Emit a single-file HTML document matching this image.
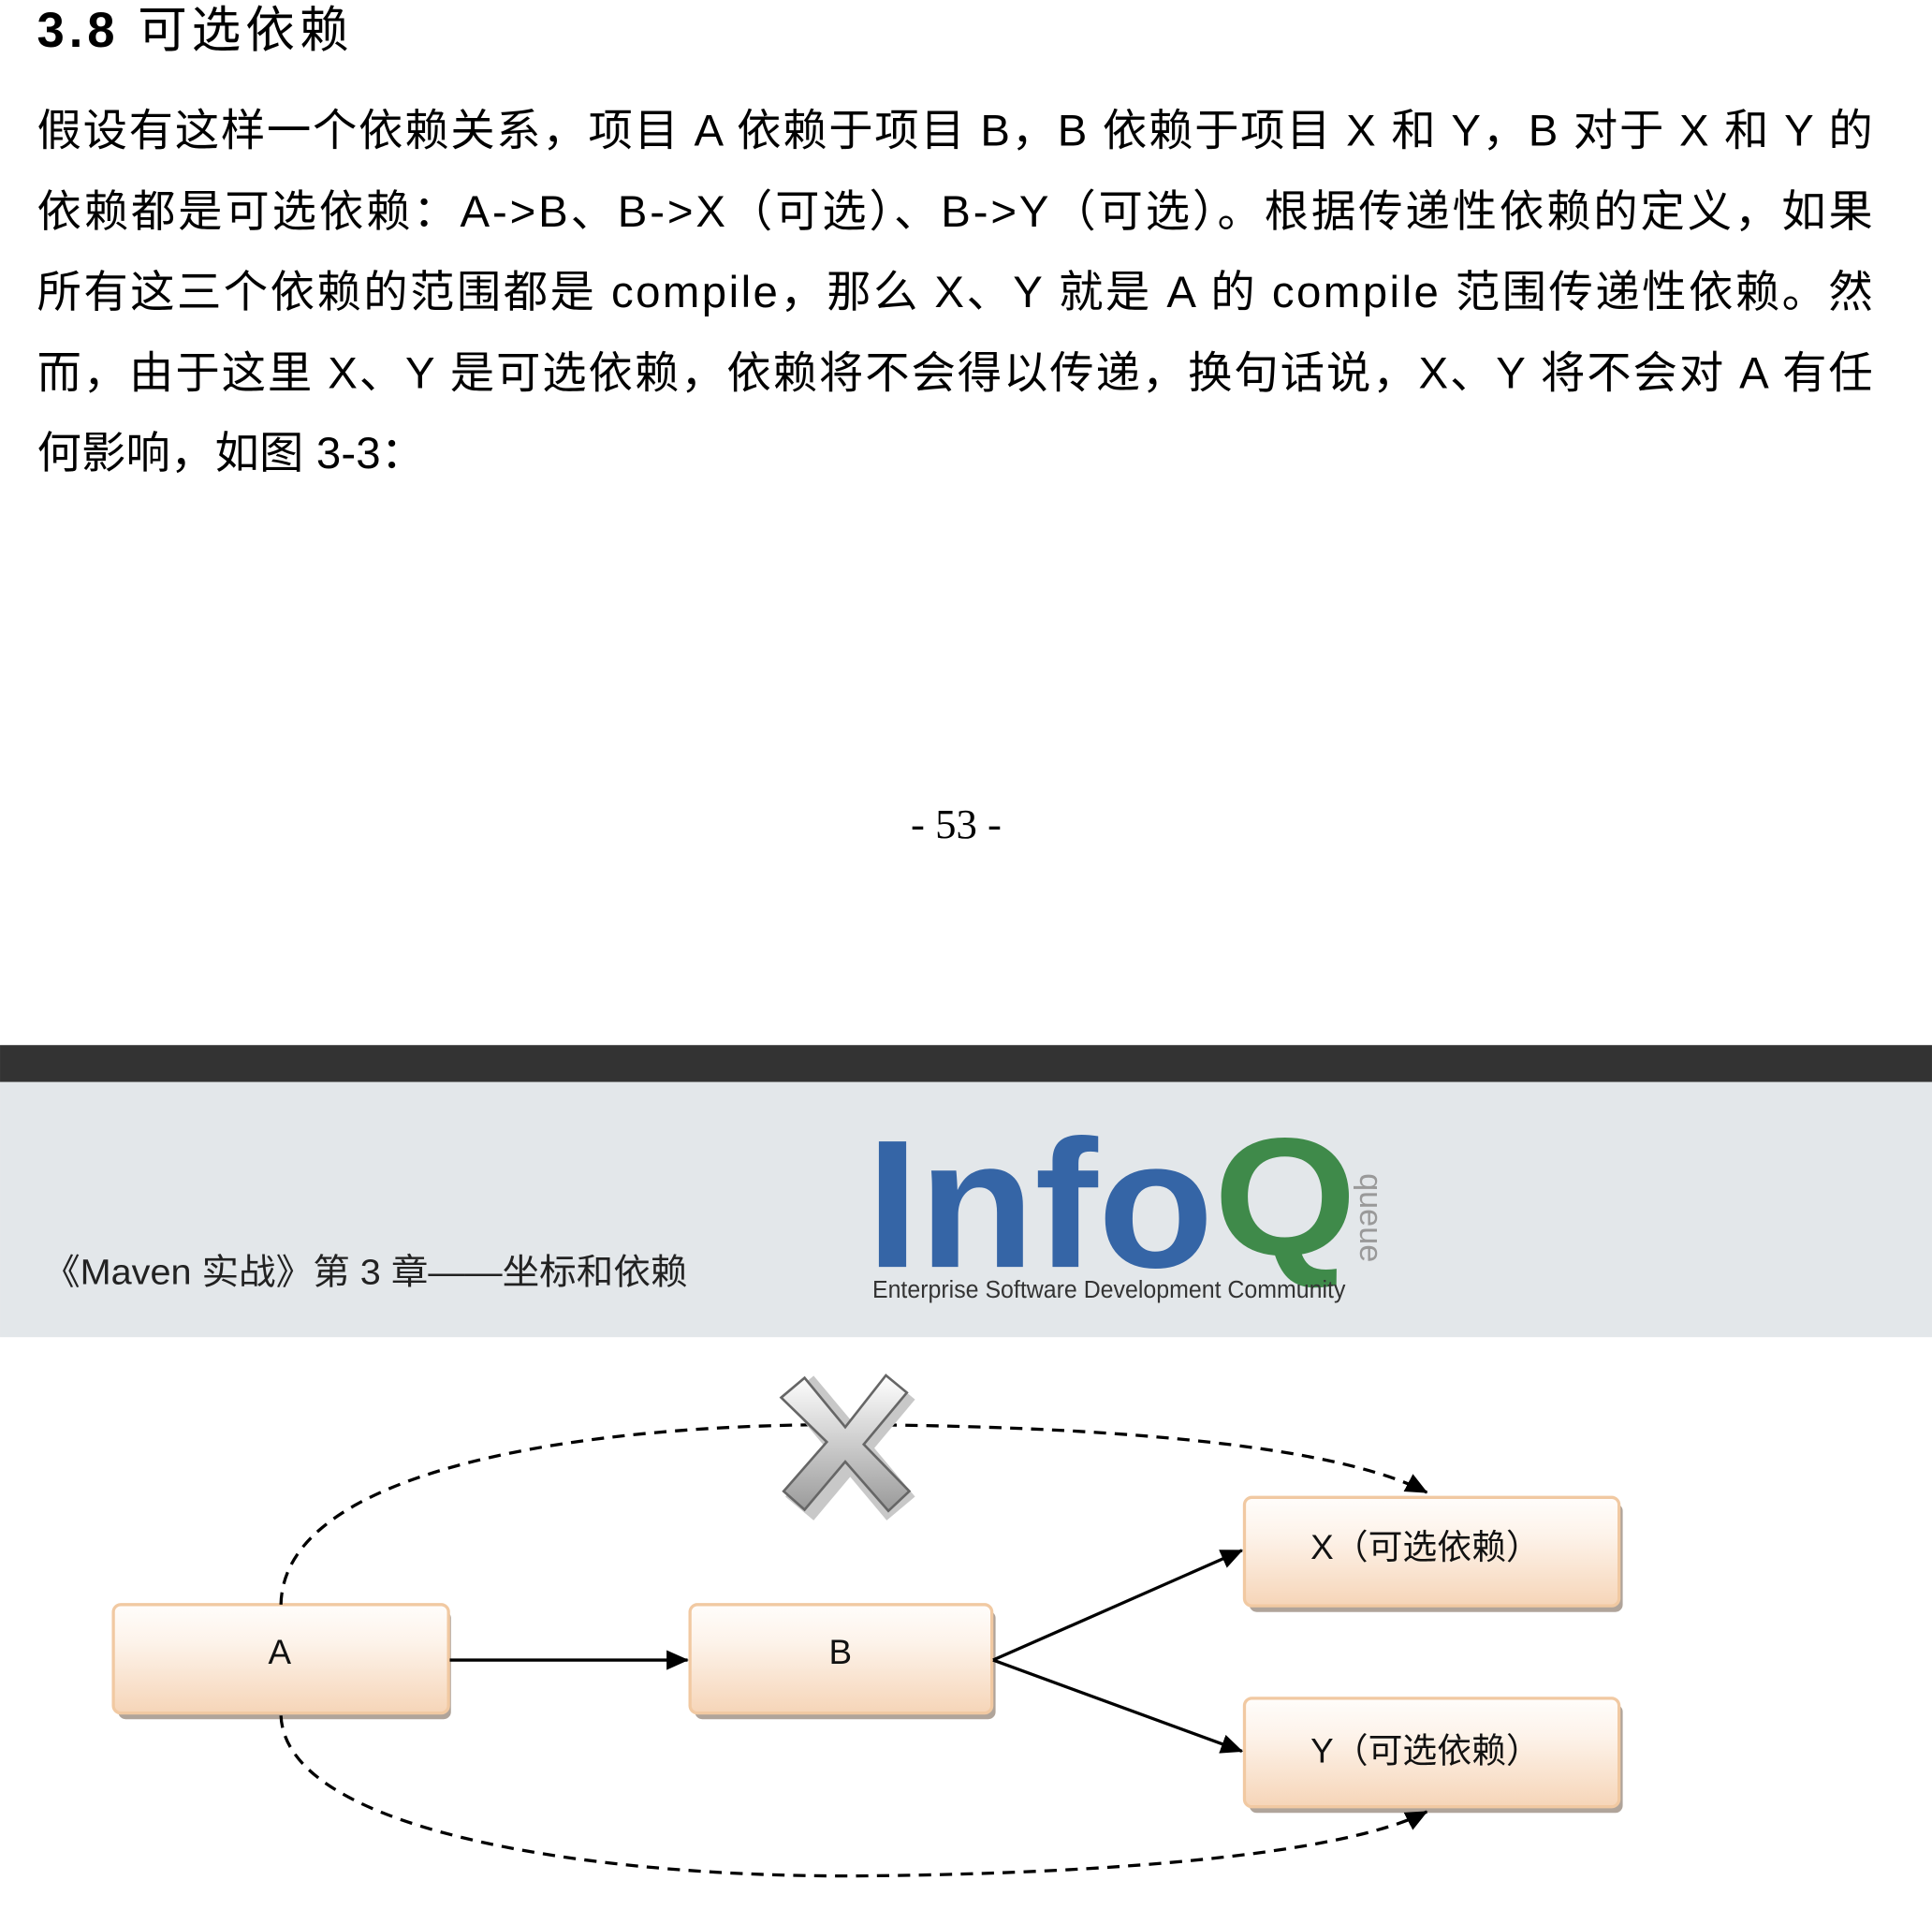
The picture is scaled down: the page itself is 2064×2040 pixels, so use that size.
<!DOCTYPE html>
<html><head><meta charset="utf-8"><style>
html,body{margin:0;padding:0;background:#fff;}
svg{display:block;}
</style></head><body>
<svg width="2064" height="2040" viewBox="0 0 1568 1549.8" xmlns="http://www.w3.org/2000/svg">
<defs>
<linearGradient id="bx" x1="0" y1="0" x2="0" y2="1"><stop offset="0" stop-color="#fffdfb"/><stop offset="0.35" stop-color="#fdf3ea"/><stop offset="1" stop-color="#f6d5b8"/></linearGradient>
<linearGradient id="xg" x1="0" y1="0" x2="0" y2="1"><stop offset="0" stop-color="#ffffff"/><stop offset="1" stop-color="#9a9a9a"/></linearGradient>
<marker id="ar2" markerWidth="18" markerHeight="18" refX="17" refY="9" orient="auto" markerUnits="userSpaceOnUse" viewBox="0 0 18 18"><path d="M0,1 L18,9 L0,17 z" fill="#000"/></marker>
</defs>
<g font-family="'Liberation Sans','Noto Sans CJK SC',sans-serif" fill="#000">
<text x="30" y="38" font-size="40" textLength="253" lengthAdjust="spacing"><tspan font-weight="bold">3.8</tspan> 可选依赖</text>
<g font-size="36">
<text x="30" y="118" textLength="1490" lengthAdjust="spacing">假设有这样一个依赖关系，项目 A 依赖于项目 B，B 依赖于项目 X 和 Y，B 对于 X 和 Y 的</text>
<text x="30" y="184" textLength="1490" lengthAdjust="spacing">依赖都是可选依赖：A-&gt;B、B-&gt;X（可选）、B-&gt;Y（可选）。根据传递性依赖的定义，如果</text>
<text x="30" y="249" textLength="1490" lengthAdjust="spacing">所有这三个依赖的范围都是 compile，那么 X、Y 就是 A 的 compile 范围传递性依赖。然</text>
<text x="30" y="315" textLength="1490" lengthAdjust="spacing">而，由于这里 X、Y 是可选依赖，依赖将不会得以传递，换句话说，X、Y 将不会对 A 有任</text>
<text x="30" y="380" textLength="315" lengthAdjust="spacing">何影响，如图 3-3：</text>
</g>
<text x="776" y="680" font-size="34" text-anchor="middle" font-family="'Liberation Serif',serif">- 53 -</text>
</g>
<rect x="0" y="848" width="1568" height="30" fill="#333"/>
<rect x="0" y="878" width="1568" height="207" fill="#e3e7ea"/>
<text x="35" y="1042" font-size="29" font-family="'Liberation Sans','Noto Sans CJK SC',sans-serif" fill="#222" textLength="523" lengthAdjust="spacingAndGlyphs">《Maven 实战》第 3 章——坐标和依赖</text>
<text x="703" y="1028" font-size="148" font-weight="bold" font-family="'Liberation Sans',sans-serif" fill="#3565a6" textLength="282" lengthAdjust="spacingAndGlyphs">Info</text>
<text x="985" y="1018" font-size="136" font-weight="bold" font-family="'Liberation Sans',sans-serif" fill="#3f8a4a" textLength="116" lengthAdjust="spacingAndGlyphs">Q</text>
<text transform="translate(1104,952) rotate(90)" font-size="26" font-family="'Liberation Sans',sans-serif" fill="#999">queue</text>
<text x="708" y="1053" font-size="20" font-family="'Liberation Sans',sans-serif" fill="#333" textLength="384" lengthAdjust="spacingAndGlyphs">Enterprise Software Development Community</text>

<g>
<rect x="96" y="1307" width="270" height="88" rx="6" fill="#b0a49a"/>
<rect x="92" y="1302" width="272" height="88" rx="6" fill="url(#bx)" stroke="#f1c9a2" stroke-width="2.5"/>
<rect x="564" y="1307" width="244" height="88" rx="6" fill="#b0a49a"/>
<rect x="560" y="1302" width="245" height="88" rx="6" fill="url(#bx)" stroke="#f1c9a2" stroke-width="2.5"/>
<rect x="1014" y="1220" width="303" height="88" rx="6" fill="#b0a49a"/>
<rect x="1010" y="1215" width="304" height="88" rx="6" fill="url(#bx)" stroke="#f1c9a2" stroke-width="2.5"/>
<rect x="1014" y="1383" width="303" height="88" rx="6" fill="#b0a49a"/>
<rect x="1010" y="1378" width="304" height="88" rx="6" fill="url(#bx)" stroke="#f1c9a2" stroke-width="2.5"/>
</g>
<g font-family="'Liberation Sans','Noto Sans CJK SC',sans-serif" font-size="28" text-anchor="middle" fill="#111">
<text x="227" y="1350">A</text>
<text x="682" y="1350">B</text>
<text x="1157" y="1265">X（可选依赖）</text>
<text x="1157" y="1430">Y（可选依赖）</text>
</g>
<g stroke="#000" stroke-width="2.5" fill="none">
<line x1="365" y1="1347" x2="558" y2="1347" marker-end="url(#ar2)"/>
<line x1="806" y1="1347" x2="1008" y2="1258" marker-end="url(#ar2)"/>
<line x1="806" y1="1347" x2="1008" y2="1421" marker-end="url(#ar2)"/>
</g>
<g stroke="#000" stroke-width="2.5" fill="none" stroke-dasharray="10,7">
<path d="M228,1302 C230,1190 480,1155 690,1156 C880,1157 1080,1170 1158,1211" marker-end="url(#ar2)"/>
<path d="M228,1392 C232,1490 500,1525 710,1522 C900,1520 1090,1505 1158,1470" marker-end="url(#ar2)"/>
</g>
<g transform="translate(686,1170)">
<g transform="translate(4,5)" fill="#c8c8c8">
<rect x="-15" y="-64" width="30" height="128" transform="rotate(-40)"/>
<rect x="-15" y="-64" width="30" height="128" transform="rotate(40)"/>
</g>
<path d="M-52,-36 L-33,-52 L0,-12 L33,-54 L50,-40 L15,2 L52,40 L35,56 L0,16 L-33,55 L-50,40 L-15,0 Z" fill="url(#xg)" stroke="#666" stroke-width="2"/>
</g>
</svg>
</body></html>
